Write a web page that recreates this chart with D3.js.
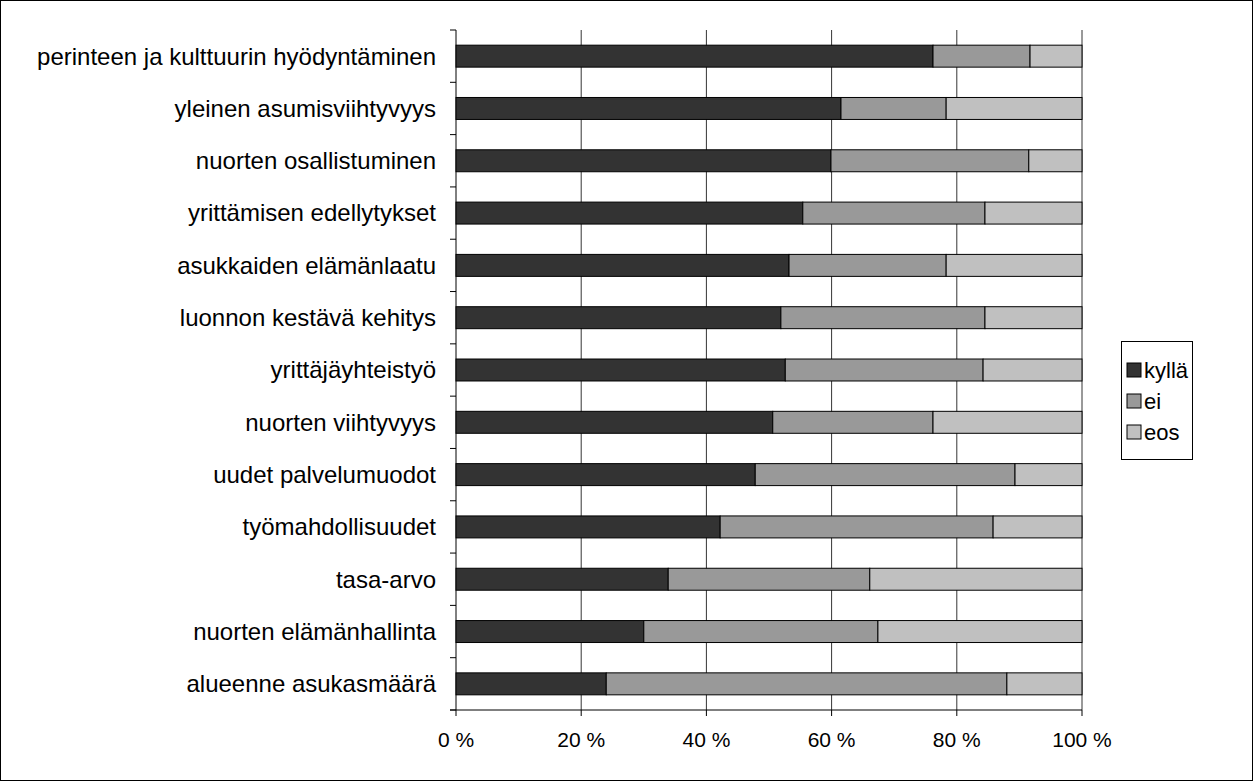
<!DOCTYPE html><html><head><meta charset="utf-8"><script src="https://cdn.jsdelivr.net/npm/d3@7"></script>
<style>body{margin:0;background:#fff}svg{font-family:"Liberation Sans",Arial,sans-serif}</style></head><body><svg width="1253" height="781"></svg>
<script>
const categories=["perinteen ja kulttuurin hyödyntäminen","yleinen asumisviihtyvyys","nuorten osallistuminen","yrittämisen edellytykset","asukkaiden elämänlaatu","luonnon kestävä kehitys","yrittäjäyhteistyö","nuorten viihtyvyys","uudet palvelumuodot","työmahdollisuudet","tasa-arvo","nuorten elämänhallinta","alueenne asukasmäärä"];
const kylla=[76.2,61.5,59.9,55.4,53.2,51.9,52.6,50.6,47.8,42.2,33.9,30.0,24.0];
const ei=[15.5,16.8,31.6,29.1,25.1,32.6,31.6,25.6,41.5,43.6,32.2,37.4,64.0];
const eos=kylla.map((k,i)=>100-k-ei[i]);
const seriesNames=["kyllä","ei","eos"];
const colors=["#333333","#999999","#c0c0c0"];
const ticks=[0,20,40,60,80,100];
const svg=d3.select("svg");
svg.append("rect").attr("x",0.5).attr("y",0.5).attr("width",1252).attr("height",780).attr("fill","none").attr("stroke","#000");
const T=30,B=710;
const x=d3.scaleLinear().domain([0,100]).range([456,1082]);
const y=d3.scaleBand().domain(categories).range([T,B]).paddingInner(0.58).paddingOuter(0.29);
const g=svg.append("g");
ticks.forEach(t=>g.append("line").attr("x1",x(t)).attr("x2",x(t)).attr("y1",T).attr("y2",B).attr("stroke","#000").attr("stroke-width",t==0?1:0.8));
const data=[kylla,ei,eos];
categories.forEach((c,i)=>{let acc=0;data.forEach((s,j)=>{g.append("rect").attr("x",x(acc)).attr("y",y(c)).attr("width",x(acc+s[i])-x(acc)).attr("height",y.bandwidth()).attr("fill",colors[j]).attr("stroke","#000").attr("stroke-width",1);acc+=s[i];});
 g.append("text").attr("x",436).attr("y",y(c)+y.bandwidth()/2).attr("dy","0.35em").attr("text-anchor","end").attr("font-size",24).text(c);});
for(let k=0;k<=categories.length;k++){const yy=T+k*((B-T)/13);g.append("line").attr("x1",450).attr("x2",456).attr("y1",yy).attr("y2",yy).attr("stroke","#000");}
g.append("line").attr("x1",450).attr("x2",1082).attr("y1",B).attr("y2",B).attr("stroke","#000");
ticks.forEach(t=>{g.append("line").attr("x1",x(t)).attr("x2",x(t)).attr("y1",B).attr("y2",B+6).attr("stroke","#000");
 g.append("text").attr("x",x(t)).attr("y",747).attr("text-anchor","middle").attr("font-size",21).text(t+" %");});
const lg=svg.append("g");
lg.append("rect").attr("x",1121.5).attr("y",341.5).attr("width",71).attr("height",118).attr("fill","#fff").attr("stroke","#000");
seriesNames.forEach((n,j)=>{const yy=370+j*31;lg.append("rect").attr("x",1127).attr("y",yy-7).attr("width",14).attr("height",14).attr("fill",colors[j]).attr("stroke","#000");
 lg.append("text").attr("x",1144).attr("y",yy).attr("dy","0.35em").attr("font-size",22).text(n);});
</script></body></html>
